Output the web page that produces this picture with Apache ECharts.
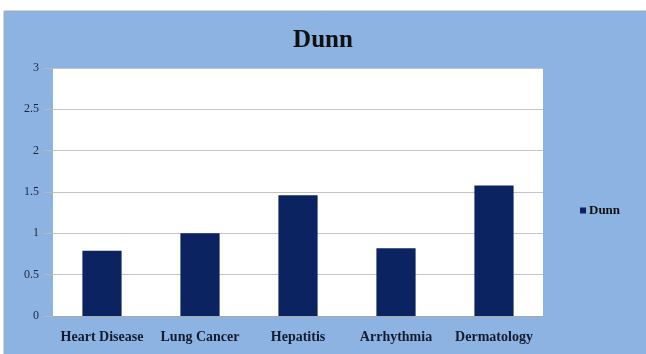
<!DOCTYPE html>
<html>
<head>
<meta charset="utf-8">
<script src="https://cdn.jsdelivr.net/npm/echarts@6/dist/echarts.min.js"></script>
<style>
  html, body { margin: 0; padding: 0; background: #ffffff; }
  #chart { width: 646px; height: 354px; }
</style>
</head>
<body>
<div id="chart"></div>
<script>
// Dunn index per dataset
const categories = ['Heart Disease', 'Lung Cancer', 'Hepatitis', 'Arrhythmia', 'Dermatology'];
const dunnValues = [0.79, 1.0, 1.46, 0.82, 1.58];
const seriesName = 'Dunn';
const chartTitle = 'Dunn';

const serif = '"Liberation Serif", "DejaVu Serif", serif';
const chart = echarts.init(document.getElementById('chart'));

chart.setOption({
  backgroundColor: '#ffffff',
  animation: false,
  graphic: [{
    type: 'rect',
    z: -10,
    shape: { x: 4, y: 11, width: 645, height: 346 },
    style: { fill: '#8db3e2', stroke: '#a3a9b2', lineWidth: 1 },
    silent: true
  }],
  title: {
    text: chartTitle,
    left: 'center',
    top: 23,
    textStyle: { fontFamily: serif, fontSize: 25, fontWeight: 'bold', color: '#111111' }
  },
  legend: {
    data: [seriesName],
    left: 575,
    top: 199,
    icon: 'rect',
    itemWidth: 6,
    itemHeight: 6,
    itemGap: 4,
    textStyle: { fontFamily: serif, fontSize: 13, fontWeight: 'bold', color: '#111111', padding: [0, 0, 0, -2] }
  },
  grid: {
    left: 53,
    right: 103,
    top: 68,
    bottom: 38,
    show: true,
    backgroundColor: '#ffffff',
    borderWidth: 0
  },
  xAxis: {
    type: 'category',
    data: categories,
    axisLine: { lineStyle: { color: '#a8a8a8' } },
    axisTick: { show: false },
    axisLabel: {
      interval: 0,
      hideOverlap: false,
      margin: 14,
      fontFamily: serif,
      fontSize: 14,
      fontWeight: 'bold',
      color: '#141b2e'
    }
  },
  yAxis: {
    type: 'value',
    min: 0,
    max: 3,
    interval: 0.5,
    axisLine: { show: false },
    axisTick: { show: true, length: 9, lineStyle: { color: '#b8b8b8' } },
    splitLine: { lineStyle: { color: '#c4c4c4' } },
    axisLabel: {
      margin: 14,
      fontFamily: serif,
      fontSize: 12,
      color: '#1c2540'
    }
  },
  series: [{
    name: seriesName,
    type: 'bar',
    data: dunnValues,
    barWidth: '40%',
    itemStyle: { color: '#0c2362' }
  }]
});
</script>
</body>
</html>
